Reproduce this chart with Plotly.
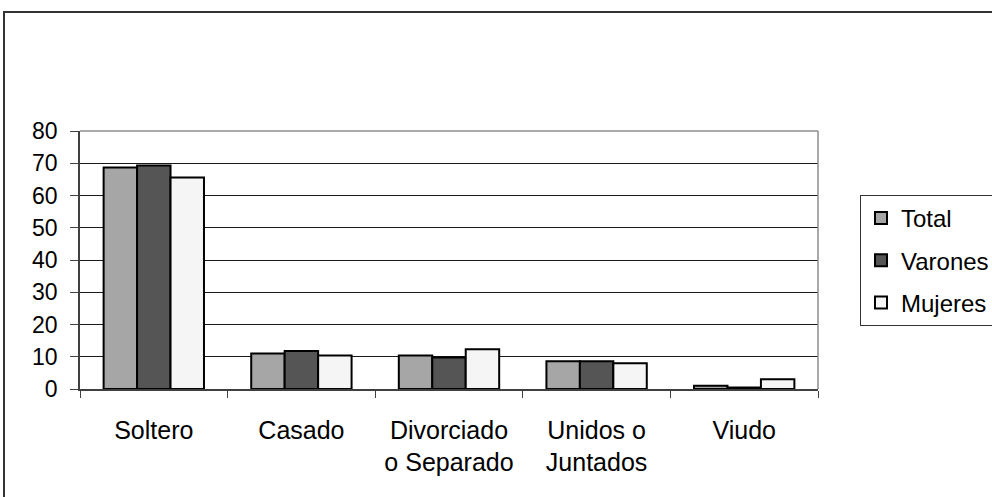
import plotly.graph_objects as go

categories = ["Soltero", "Casado", "Divorciado<br>o Separado", "Unidos o<br>Juntados", "Viudo"]
total = [68.7, 11.0, 10.4, 8.6, 1.0]
varones = [69.3, 11.8, 9.8, 8.6, 0.5]
mujeres = [65.6, 10.4, 12.3, 8.0, 3.0]
series_names = ["Total", "Varones", "Mujeres"]
y_ticks = [0, 10, 20, 30, 40, 50, 60, 70, 80]

colors = ["#A6A6A6", "#555555", "#F5F5F5"]
FONT = "Liberation Sans, Arial, sans-serif"

W, H = 992, 497
L, R, T, B = 80, 174, 131, 108
pw, ph = W - L - R, H - T - B

def px_x(p):
    return (p - L) / pw

def px_y(p):
    return (H - B - p) / ph

fig = go.Figure()
for name, vals, col in zip(series_names, [total, varones, mujeres], colors):
    fig.add_trace(go.Bar(
        x=categories, y=vals, name=name, legendgroup=name,
        marker=dict(color=col, line=dict(color="#000000", width=2)),
    ))

fig.update_layout(
    width=W, height=H,
    margin=dict(l=L, r=R, t=T, b=B, autoexpand=False),
    paper_bgcolor="white", plot_bgcolor="white",
    barmode="group", bargap=0.32, bargroupgap=0,
    font=dict(family=FONT, color="#000000"),
    legend=dict(
        x=px_x(860), y=px_y(195), xanchor="left", yanchor="top",
        font=dict(size=24, family=FONT, color="#000000"),
        bordercolor="#333333", borderwidth=1, bgcolor="white",
        tracegroupgap=8, traceorder="grouped", itemwidth=30,
    ),
    showlegend=True,
)

fig.update_xaxes(
    type="category", showline=True, linecolor="#404040", linewidth=1.5,
    ticks="outside", tickson="boundaries", ticklen=7, tickcolor="#404040",
    tickfont=dict(size=25, family=FONT, color="#000000"),
    ticklabelstandoff=18, showgrid=False,
)
fig.update_yaxes(
    range=[0, 80], tickvals=y_ticks, showline=True, linecolor="#404040", linewidth=1.5,
    ticks="outside", ticklen=8, tickcolor="#404040",
    tickfont=dict(size=23, family=FONT, color="#000000"),
    ticklabelstandoff=8,
    showgrid=True, gridcolor="#1a1a1a", gridwidth=1, zeroline=False,
)

# plot area border (top & right, grey)
fig.add_shape(type="line", xref="paper", yref="paper", x0=0, x1=1, y0=1, y1=1,
              line=dict(color="#8c8c8c", width=1.5))
fig.add_shape(type="line", xref="paper", yref="paper", x0=1, x1=1, y0=0, y1=1,
              line=dict(color="#8c8c8c", width=1.5))
# outer chart frame
fig.add_shape(type="rect", xref="paper", yref="paper",
              x0=px_x(4), x1=px_x(1010), y0=px_y(520), y1=px_y(12),
              line=dict(color="#333333", width=2), fillcolor="rgba(0,0,0,0)")

fig.write_html("out.html", config={"displayModeBar": False},
               post_script="document.body.style.margin='0';document.body.style.overflow='hidden';")
